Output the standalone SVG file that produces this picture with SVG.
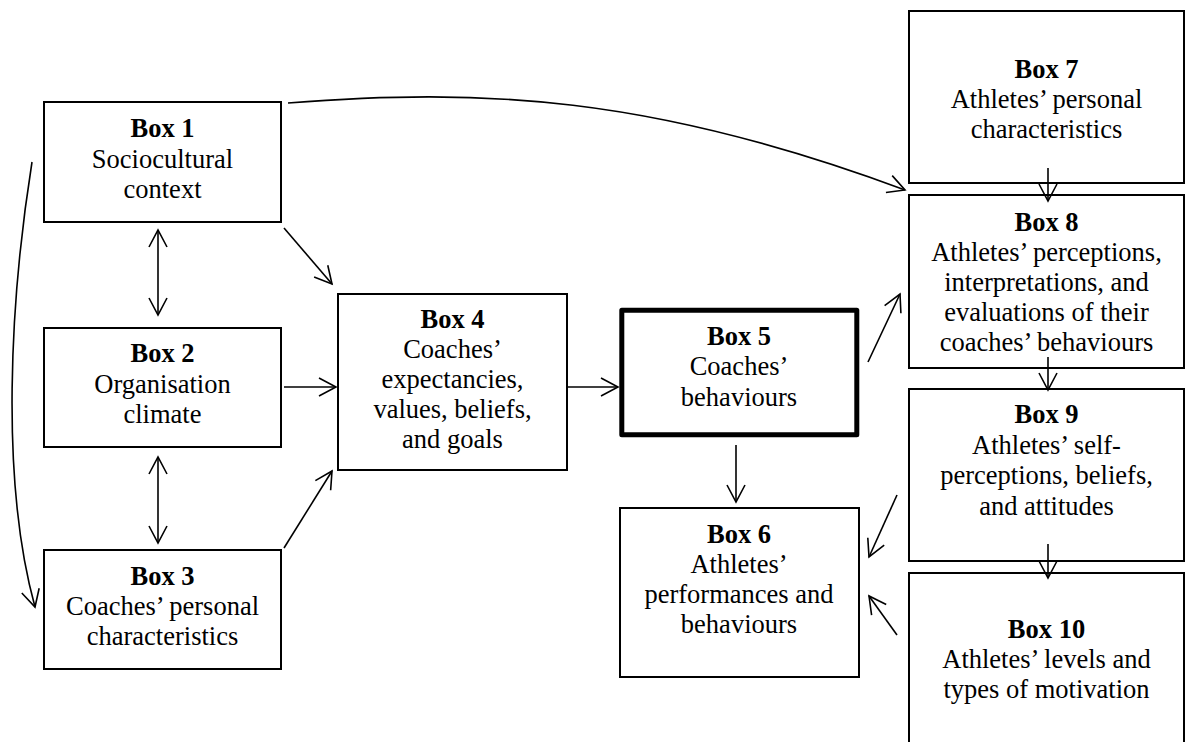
<svg xmlns="http://www.w3.org/2000/svg" width="1187" height="742" viewBox="0 0 1187 742">
  <style>
    .box { fill: #fff; stroke: #000; stroke-width: 2; }
    .key { fill: #fff; stroke: #000; stroke-width: 5; stroke-linejoin: round; }
    text { font-family: "Liberation Serif", "Times New Roman", serif; font-size: 26.5px; fill: #000; text-anchor: middle; }
    .title { font-weight: bold; }
    .link { fill: none; stroke: #000; stroke-width: 1.6; }
  </style>
  <defs>
    <marker id="head" markerUnits="userSpaceOnUse" viewBox="-20 -12 24 24" refX="0" refY="0" markerWidth="24" markerHeight="24" orient="auto-start-reverse">
      <path d="M-17,-9 L0,0 L-17,9" fill="none" stroke="#000" stroke-width="1.6"/>
    </marker>
  </defs>

  <rect width="1187" height="742" fill="#fff"/>

  <g id="box1">
    <rect class="box" x="44" y="102" width="237" height="120"/>
    <text x="162.5" y="137" class="title">Box 1</text>
    <text x="162.5" y="168">Sociocultural</text>
    <text x="162.5" y="198">context</text>
  </g>

  <g id="box2">
    <rect class="box" x="44" y="328" width="237" height="119"/>
    <text x="162.5" y="362" class="title">Box 2</text>
    <text x="162.5" y="393">Organisation</text>
    <text x="162.5" y="423">climate</text>
  </g>

  <g id="box3">
    <rect class="box" x="44" y="550" width="237" height="119"/>
    <text x="162.5" y="585" class="title">Box 3</text>
    <text x="162.5" y="615">Coaches’ personal</text>
    <text x="162.5" y="645">characteristics</text>
  </g>

  <g id="box4">
    <rect class="box" x="338" y="294" width="229" height="176"/>
    <text x="452.5" y="328" class="title">Box 4</text>
    <text x="452.5" y="358">Coaches’</text>
    <text x="452.5" y="388">expectancies,</text>
    <text x="452.5" y="418">values, beliefs,</text>
    <text x="452.5" y="448">and goals</text>
  </g>

  <g id="box5">
    <rect class="key" x="621.8" y="310.2" width="235" height="124.6"/>
    <text x="739" y="345" class="title">Box 5</text>
    <text x="739" y="375">Coaches’</text>
    <text x="739" y="406">behaviours</text>
  </g>

  <g id="box6">
    <rect class="box" x="620" y="508" width="239" height="169"/>
    <text x="739" y="543" class="title">Box 6</text>
    <text x="739" y="573">Athletes’</text>
    <text x="739" y="603">performances and</text>
    <text x="739" y="633">behaviours</text>
  </g>

  <g id="box7">
    <rect class="box" x="909" y="11" width="275" height="172"/>
    <text x="1046.5" y="78" class="title">Box 7</text>
    <text x="1046.5" y="108">Athletes’ personal</text>
    <text x="1046.5" y="138">characteristics</text>
  </g>

  <g id="box8">
    <rect class="box" x="909" y="195" width="275" height="173"/>
    <text x="1046.5" y="231" class="title">Box 8</text>
    <text x="1046.5" y="261">Athletes’ perceptions,</text>
    <text x="1046.5" y="291">interpretations, and</text>
    <text x="1046.5" y="321">evaluations of their</text>
    <text x="1046.5" y="351">coaches’ behaviours</text>
  </g>

  <g id="box9">
    <rect class="box" x="909" y="389" width="275" height="172"/>
    <text x="1046.5" y="423" class="title">Box 9</text>
    <text x="1046.5" y="454">Athletes’ self-</text>
    <text x="1046.5" y="484">perceptions, beliefs,</text>
    <text x="1046.5" y="515">and attitudes</text>
  </g>

  <g id="box10">
    <rect class="box" x="909" y="573" width="275" height="190"/>
    <text x="1046.5" y="638" class="title">Box 10</text>
    <text x="1046.5" y="668">Athletes’ levels and</text>
    <text x="1046.5" y="698">types of motivation</text>
  </g>

  <g id="connectors">
    <!-- two-way links in the left column -->
    <line class="link" x1="158" y1="230" x2="158" y2="315" marker-start="url(#head)" marker-end="url(#head)"/>
    <line class="link" x1="158" y1="457" x2="158" y2="543" marker-start="url(#head)" marker-end="url(#head)"/>
    <!-- left column into box 4 -->
    <line class="link" x1="284" y1="228" x2="332" y2="284" marker-end="url(#head)"/>
    <line class="link" x1="284" y1="387" x2="336" y2="387" marker-end="url(#head)"/>
    <line class="link" x1="284" y1="548" x2="332" y2="471" marker-end="url(#head)"/>
    <!-- box 4 to box 5 -->
    <line class="link" x1="568" y1="387" x2="618" y2="387" marker-end="url(#head)"/>
    <!-- box 5 outputs -->
    <line class="link" x1="868" y1="362" x2="900" y2="294" marker-end="url(#head)"/>
    <line class="link" x1="736" y1="445" x2="736" y2="502" marker-end="url(#head)"/>
    <!-- feedback into box 6 -->
    <line class="link" x1="897" y1="495" x2="869" y2="557" marker-end="url(#head)"/>
    <line class="link" x1="897" y1="635" x2="869" y2="596" marker-end="url(#head)"/>
    <!-- right column chain -->
    <line class="link" x1="1048" y1="168" x2="1048" y2="201" marker-end="url(#head)"/>
    <line class="link" x1="1048" y1="357" x2="1048" y2="390" marker-end="url(#head)"/>
    <line class="link" x1="1048" y1="544" x2="1048" y2="578" marker-end="url(#head)"/>
    <!-- long curves -->
    <path class="link" d="M288,103 C480,88 650,95 905,190" marker-end="url(#head)"/>
    <path class="link" d="M32,162 C10,300 0,480 35,607" marker-end="url(#head)"/>
  </g>
</svg>
